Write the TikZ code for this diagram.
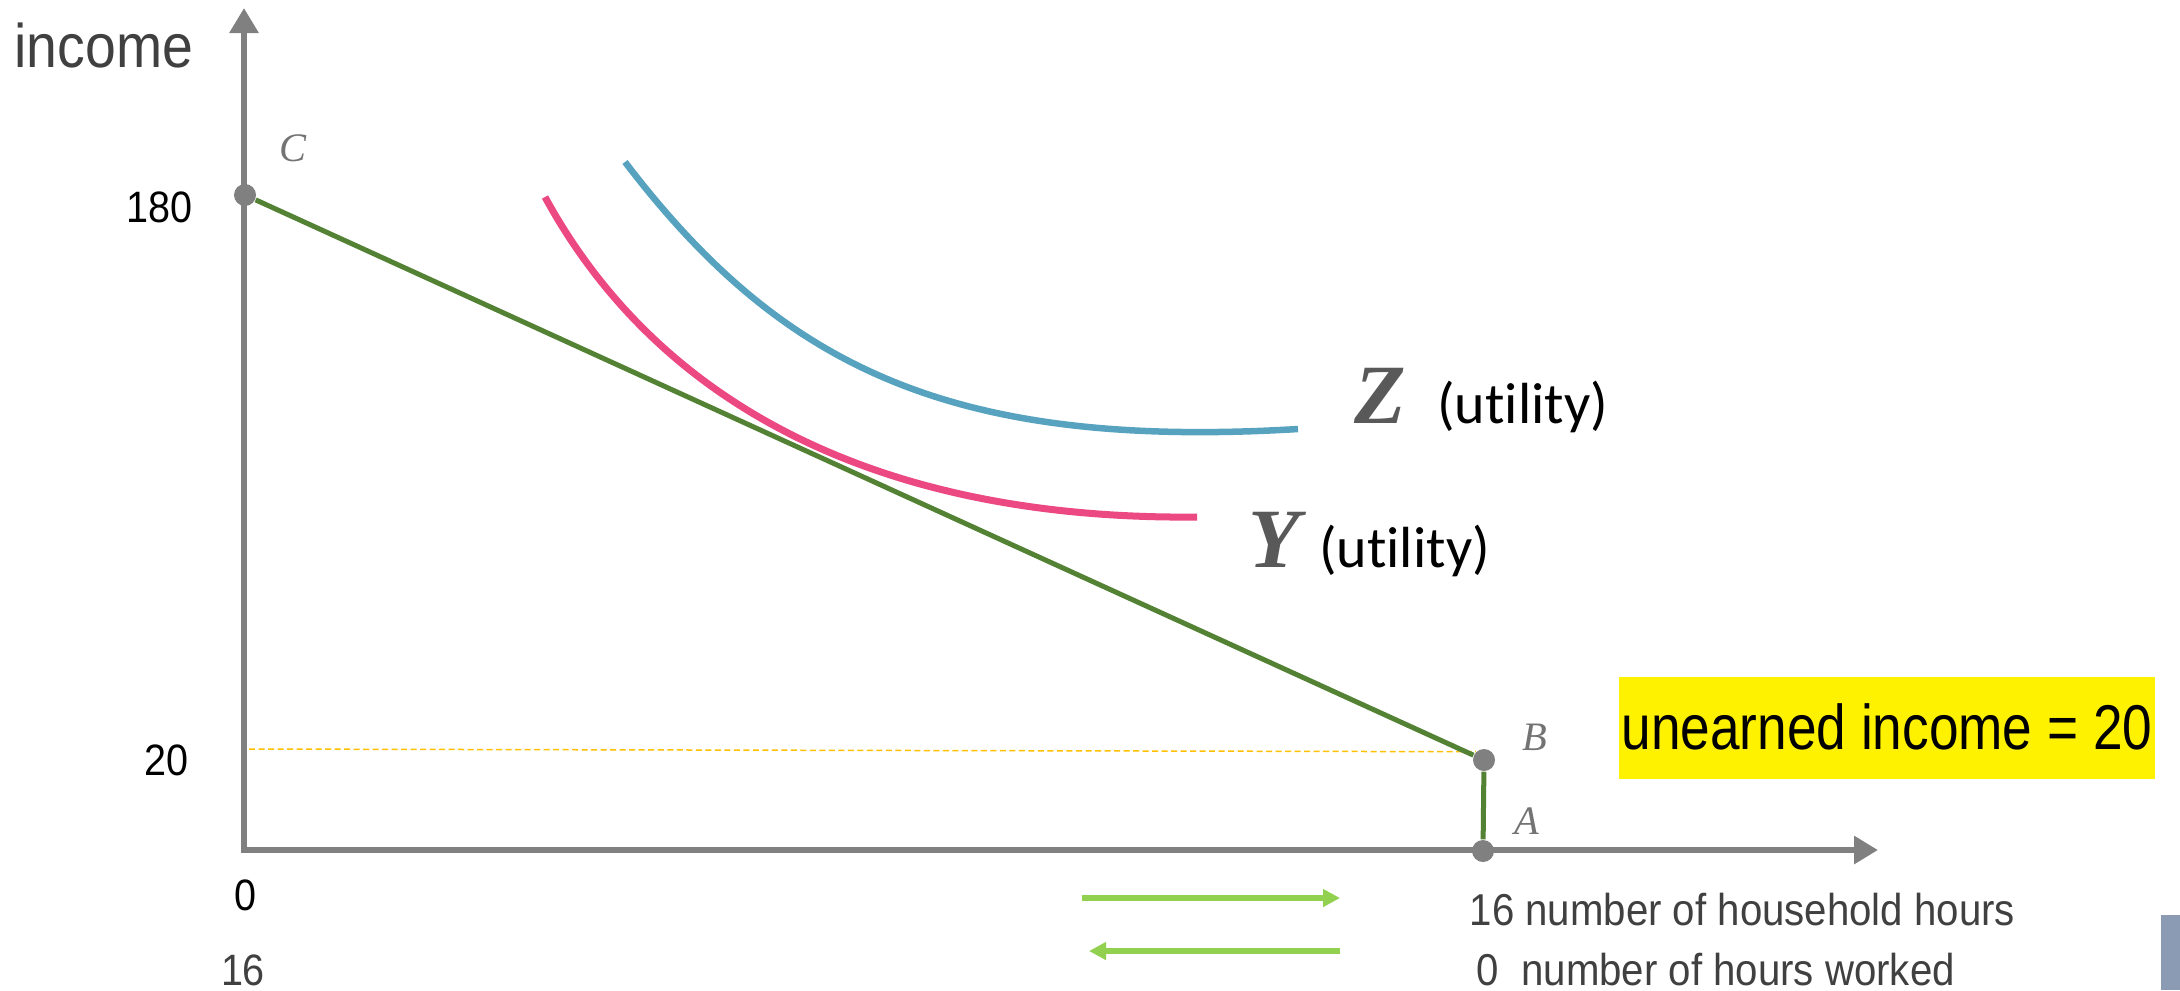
\documentclass[tikz,border=0pt]{standalone}
\usepackage{fontspec}
\setmainfont{Liberation Sans}
\newfontfamily\narrowfont{Liberation Sans}[FakeStretch=0.9]
\newfontfamily\condfont{Liberation Sans}[FakeStretch=0.84]
\newfontfamily\calfont{Carlito}[Ligatures=NoCommon]
\newfontfamily\mathlikefont{Liberation Serif}
\usetikzlibrary{arrows.meta,positioning}
\definecolor{axisgray}{HTML}{808080}
\definecolor{pointgray}{HTML}{737373}
\definecolor{labelgray}{HTML}{595959}
\definecolor{textgray}{HTML}{404040}
\definecolor{budgetgreen}{HTML}{548235}
\definecolor{ypink}{HTML}{EC4882}
\definecolor{zblue}{HTML}{57A3BF}
\definecolor{dashorange}{HTML}{FFC000}
\definecolor{arrowgreen}{HTML}{92D050}
\definecolor{panelblue}{HTML}{8C9BB4}

\begin{document}
\begin{tikzpicture}[x=0.01cm, y=-0.01cm,
    axisline/.style={draw=axisgray, line width=0.06cm},
    pointdot/.style={circle, fill=axisgray, minimum size=0.22cm, inner sep=0pt},
    pointname/.style={text=pointgray, font=\mathlikefont\itshape\fontsize{11.5}{13}\selectfont, inner sep=0pt},
    ticklabel/.style={font=\narrowfont\fontsize{12.5}{14}\selectfont, inner sep=0pt},
    curvelabel/.style={text=labelgray, font=\mathlikefont\bfseries\itshape\fontsize{24}{28}\selectfont, inner sep=0pt},
    utiltext/.style={font=\calfont\fontsize{16.5}{19}\selectfont, inner sep=0pt},
    hourtext/.style={text=textgray, font=\narrowfont\fontsize{12.7}{15}\selectfont, inner sep=0pt, anchor=base west},
    hourarrow/.style={draw=arrowgreen, line width=0.065cm, -{Triangle[length=0.17cm, width=0.17cm]}}]
  \useasboundingbox (0,0) rectangle (2180,990);

  % axes
  \coordinate (O) at (244,850);
  \coordinate (ytip) at (244,8);
  \coordinate (xtip) at (1878,850);
  \draw[axisline, {Triangle[length=0.25cm, width=0.28cm]}-{Triangle[length=0.24cm, width=0.27cm]}] (ytip) -- (O) -- (xtip);
  \node[font=\narrowfont\fontsize{17.5}{20}\selectfont, text=textgray, inner sep=0pt, anchor=base west] (income) at (14,67) {income};

  % points of the budget line
  \node[pointdot] (C) at (245,195) {};
  \node[pointdot] (B) at (1484,760) {};
  \node[pointdot] (A) at (1483,851) {};
  \node[pointname] (Cname) at (293,148) {C};
  \node[pointname] (Bname) at (1535,737) {B};
  \node[pointname] (Aname) at (1527,821) {A};

  % unearned income level
  \coordinate (d20) at (249,749);
  \draw[dashorange, line width=0.015cm, dash pattern=on 0.06cm off 0.035cm] (d20) -- (B.north west);
  \draw[budgetgreen, line width=0.05cm] (C) -- (B) -- (A);

  % indifference curves
  \draw[ypink, line width=0.07cm] (545,197) .. controls (665,417) and (897,520) .. (1197,517);
  \draw[zblue, line width=0.065cm] (625,162) .. controls (780,365) and (948,450) .. (1298,429);
  \node[curvelabel, anchor=base] (Zname) at (1380,423) {Z};
  \node[utiltext, base right=0.3cm of Zname] (Zutil) {(utility)};
  \node[curvelabel, anchor=base] (Yname) at (1274,567) {Y};
  \node[utiltext, base right=0.18cm of Yname] (Yutil) {(utility)};

  % tick values
  \node[ticklabel, anchor=base east] (t180) at (193,222) {180};
  \node[ticklabel, anchor=base east] (t20) at (189,775) {20};
  \node[ticklabel, anchor=base] (t0) at (245,910) {0};
  \node[ticklabel, text=textgray, anchor=base] (t16) at (243,985) {16};

  \node[fill=yellow, minimum width=5.35cm, minimum height=1.02cm, inner sep=0pt,
    text height=0.46cm, text depth=0.04cm,
    font=\condfont\fontsize{18}{21}\selectfont] (unearned) at (1887,728) {unearned income = 20};

  % hours directions
  \coordinate (h1) at (1082,898); \coordinate (h2) at (1340,898);
  \coordinate (w1) at (1340,951); \coordinate (w2) at (1089,951);
  \draw[hourarrow] (h1) -- (h2);
  \draw[hourarrow] (w1) -- (w2);
  \node[hourtext] (household) at (1469,925) {16 number of household hours};
  \node[hourtext] (worked) at (1476,985) {0\ \ number of hours worked};

  \fill[panelblue] (2161,915) rectangle (2180,990);
\end{tikzpicture}
\end{document}
